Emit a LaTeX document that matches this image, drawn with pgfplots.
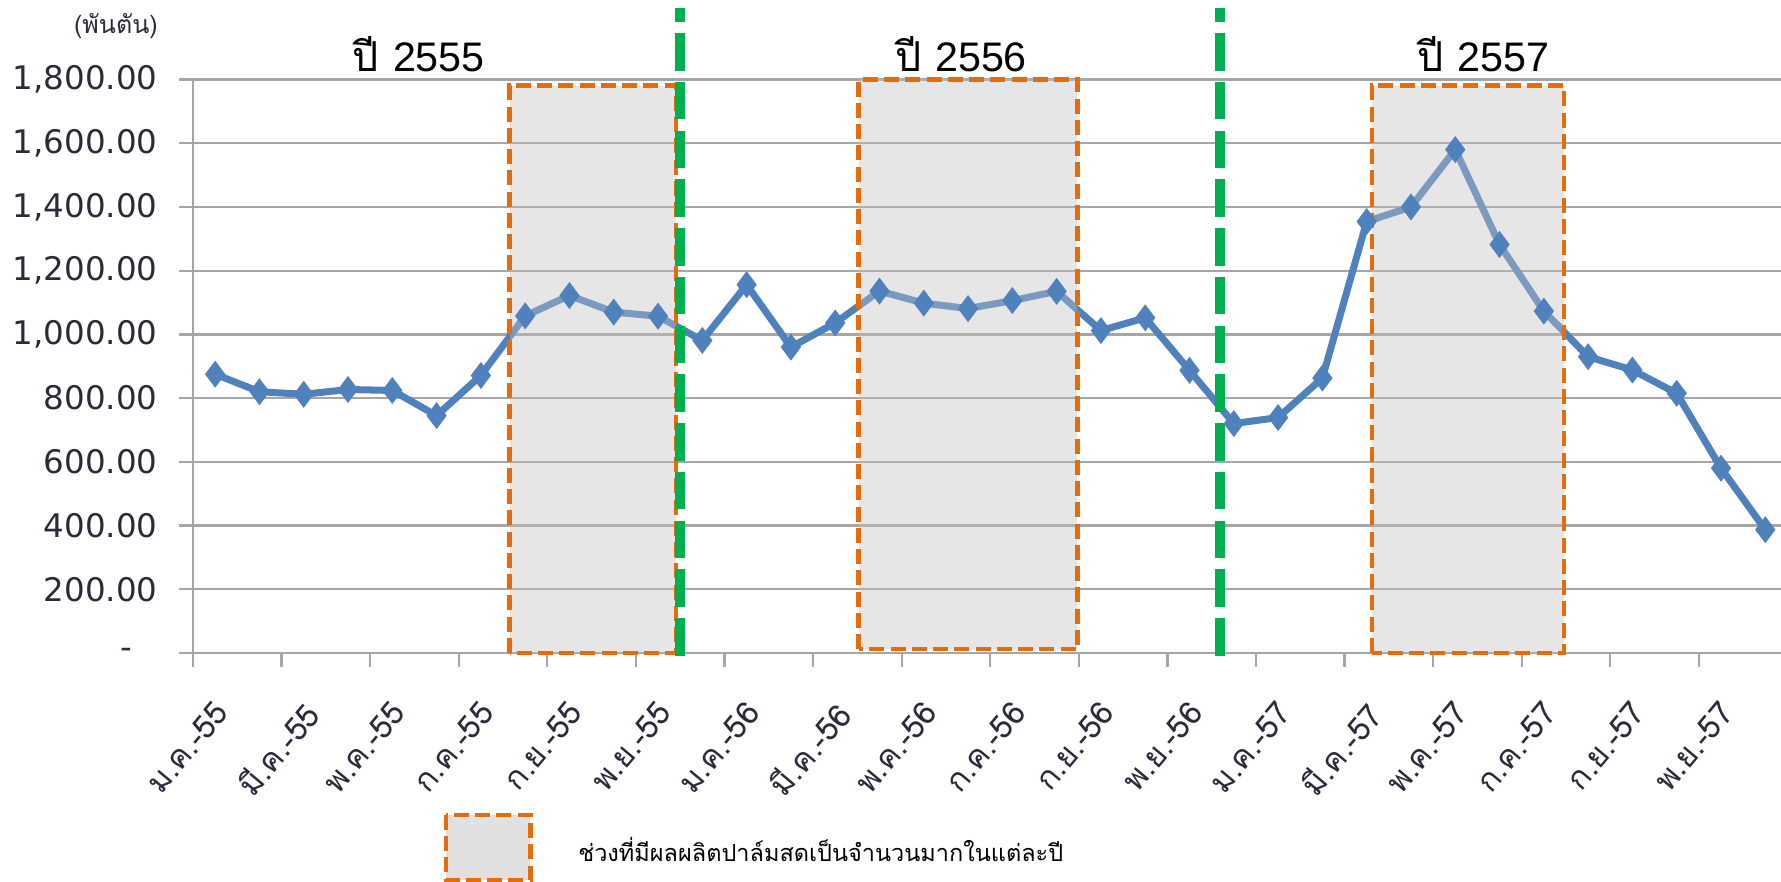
\documentclass[border=0pt]{standalone}
\usepackage{pgfplots}
\pgfplotsset{compat=1.18}
\usepackage{fontspec}
\setmainfont{DejaVu Sans}
\newfontfamily\thaifont[Script=Thai]{Loma}
\newfontfamily\arialfont{Liberation Sans}
\definecolor{lineblue}{HTML}{4F81BD}
\definecolor{boxorange}{HTML}{E46C0A}
\definecolor{sepgreen}{HTML}{00B050}
\definecolor{boxfill}{HTML}{C0C0C0}
\definecolor{legfill}{HTML}{E0E0E0}
\definecolor{gridgray}{HTML}{A6A6A6}
\definecolor{labtext}{HTML}{2A2A3A}
\pgfplotstableread{
x y
0 875
1 820
2 812
3 827
4 824
5 745
6 871
7 1058
8 1122
9 1070
10 1057
11 981
12 1156
13 960
14 1036
15 1136
16 1098
17 1081
18 1106
19 1135
20 1012
21 1052
22 887
23 720
24 739
25 863
26 1354
27 1400
28 1580
29 1282
30 1073
31 930
32 888
33 815
34 580
35 387
}\prod
\begin{document}
\begin{tikzpicture}
\useasboundingbox (-77.2pt,-91.6pt) rectangle (635.2pt,261.2pt);
\begin{axis}[
  scale only axis, width=636pt, height=229.4pt,
  xmin=-0.5, xmax=35.4, ymin=0, ymax=1800,
  axis lines=left, axis line style={gridgray, line width=0.9pt, -},
  clip=false,
  ytick={0,200,...,1800},
  yticklabels={{-\hspace*{10pt}},200.00,400.00,600.00,800.00,{1,000.00},{1,200.00},{1,400.00},{1,600.00},{1,800.00}},
  ymajorgrids, grid style={gridgray, line width=0.9pt},
  xtick={0,2,...,34},
  xticklabels={ม.ค.-55,มี.ค.-55,พ.ค.-55,ก.ค.-55,ก.ย.-55,พ.ย.-55,ม.ค.-56,มี.ค.-56,พ.ค.-56,ก.ค.-56,ก.ย.-56,พ.ย.-56,ม.ค.-57,มี.ค.-57,พ.ค.-57,ก.ค.-57,ก.ย.-57,พ.ย.-57},
  minor xtick={-0.5,1.5,...,33.5},
  tick align=outside,
  major tick length=5.6pt, minor tick length=5.6pt,
  tick style={gridgray, line width=0.9pt},
  major x tick style={draw=none},
  yticklabel style={font=\fontsize{13}{15}\selectfont, text=labtext, xshift=-5pt},
  xticklabel style={font=\thaifont\fontsize{12.8}{15}\selectfont, text=labtext, rotate=50, anchor=north east, yshift=-4pt, xshift=-7pt},
]
\addplot[color=lineblue, line width=2.8pt, mark=diamond*, mark size=5pt, mark options={fill=lineblue, draw=lineblue, line width=0.5pt}] table[x=x,y=y] {\prod};

% shaded high-production periods
\fill[boxfill, fill opacity=0.4] (axis cs:6.65,0) rectangle (axis cs:10.4,1781);
\draw[boxorange, line width=1.8pt, dash pattern=on 6pt off 2.5pt] (axis cs:6.65,0) rectangle (axis cs:10.4,1781);
\fill[boxfill, fill opacity=0.4] (axis cs:14.53,12) rectangle (axis cs:19.47,1800);
\draw[boxorange, line width=1.8pt, dash pattern=on 6pt off 2.5pt] (axis cs:14.53,12) rectangle (axis cs:19.47,1800);
\fill[boxfill, fill opacity=0.4] (axis cs:26.12,0) rectangle (axis cs:30.45,1781);
\draw[boxorange, line width=1.8pt, dash pattern=on 6pt off 2.5pt] (axis cs:26.12,0) rectangle (axis cs:30.45,1781);

% year separators
\draw[sepgreen, line width=4pt, dash pattern=on 15pt off 4.5pt] (axis cs:10.49,-8) -- (axis cs:10.49,2025);
\draw[sepgreen, line width=4pt, dash pattern=on 15pt off 4.5pt] (axis cs:22.69,-8) -- (axis cs:22.69,2025);

% year labels
\node at (axis cs:4.6,1878) {\thaifont\fontsize{16.5}{18}\selectfont ปี \arialfont 2555};
\node at (axis cs:16.84,1878) {\thaifont\fontsize{16.5}{18}\selectfont ปี \arialfont 2556};
\node at (axis cs:28.64,1878) {\thaifont\fontsize{16.5}{18}\selectfont ปี \arialfont 2557};

% unit label
\node[text=labtext] at (axis cs:-2.24,1968) {\thaifont\fontsize{10}{11}\selectfont (พันตัน)};

% legend
\draw[boxorange, line width=1.8pt, dash pattern=on 6pt off 2.5pt, fill=legfill] (axis cs:5.21,-508) rectangle (axis cs:7.12,-712);
\node[anchor=west, text=black] at (axis cs:8.0,-618) {\thaifont\fontsize{9.4}{11}\selectfont ช่วงที่มีผลผลิตปาล์มสดเป็นจำนวนมากในแต่ละปี};
\end{axis}
\end{tikzpicture}
\end{document}
